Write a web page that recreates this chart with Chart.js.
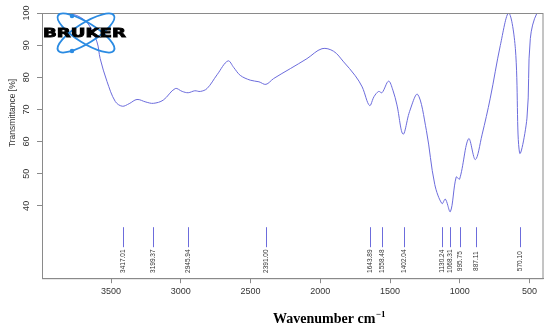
<!DOCTYPE html>
<html>
<head>
<meta charset="utf-8">
<script src="https://cdn.jsdelivr.net/npm/chart.js@4"></script>
<style>
    html, body { margin: 0; padding: 0; background: #ffffff; }
    #wrap { width: 550px; height: 329px; }
</style>
</head>
<body>
<div id="wrap"><canvas id="irChart" width="550" height="329"></canvas></div>
<script>
// FT-IR spectrum (wavenumber / transmittance)
const wavenumbers = [4000, 3850, 3745, 3664, 3601, 3578, 3529, 3470, 3420, 3370, 3314, 3250, 3197, 3126,
    3040, 2990, 2947, 2900, 2860, 2812, 2740, 2662, 2620, 2574, 2502, 2440, 2390, 2335,
    2215, 2096, 1988, 1905, 1833, 1750, 1700, 1647, 1615, 1582, 1558, 1511, 1480, 1451,
    1407, 1360, 1303, 1240, 1180, 1128, 1104, 1068, 1026, 1002, 937, 889, 841, 782,
    710, 650, 602, 572, 519, 495, 447, 400];
const transmittance = [100, 100, 99.2, 96.6, 91.0, 85.8, 78.7, 72.5, 71.0, 71.8, 73.1, 72.3, 71.9, 72.9,
    76.5, 75.6, 75.2, 75.8, 75.6, 76.5, 80.8, 85.1, 83.0, 80.6, 79.1, 78.6, 77.8, 79.6,
    82.7, 85.8, 88.9, 88.1, 84.8, 80.5, 77.0, 71.2, 74.0, 75.6, 75.2, 78.8, 76.0, 71.4,
    62.3, 69.4, 74.7, 63.5, 46.7, 40.7, 42.1, 38.2, 49.0, 48.3, 60.9, 54.4, 62.1, 73.5,
    89.9, 100, 88.9, 56.5, 67.3, 92.0, 100, 100];

const peakLabels = ['3417.01', '3199.37', '2945.94', '2391.00', '1643.89', '1558.48', '1402.04',
    '1130.24', '1068.31', '995.75', '887.11', '570.10'];

const xTickValues = [3500, 3000, 2500, 2000, 1500, 1000, 500];
const yTickValues = [40, 50, 60, 70, 80, 90, 100];

const lineColor = '#6c6cdc';
const frameColor = '#8a8a8a';

const spectrum = wavenumbers.map((w, i) => ({ x: w, y: transmittance[i] }));

const decorations = {
    id: 'decorations',
    afterDraw(chart) {
        const { ctx, chartArea, scales } = chart;
        const x = scales.x;
        const y = scales.y;
        ctx.save();

        // frame top / right
        ctx.strokeStyle = frameColor;
        ctx.lineWidth = 1;
        ctx.strokeRect(chartArea.left + 0.5, chartArea.top + 0.5,
            chartArea.right - chartArea.left - 0.5, chartArea.bottom - chartArea.top);

        // y tick labels, rotated
        ctx.fillStyle = '#333333';
        ctx.font = '9px "Liberation Sans", Arial, sans-serif';
        ctx.textAlign = 'center';
        ctx.textBaseline = 'middle';
        yTickValues.forEach(v => {
            ctx.save();
            ctx.translate(27, y.getPixelForValue(v));
            ctx.rotate(-Math.PI / 2);
            ctx.fillText(String(v), 0, 0);
            ctx.restore();
        });

        // y title
        ctx.save();
        ctx.font = '8.5px "Liberation Sans", Arial, sans-serif';
        ctx.translate(13, 113);
        ctx.rotate(-Math.PI / 2);
        ctx.fillText('Transmittance [%]', 0, 0);
        ctx.restore();

        // peak markers
        peakLabels.forEach(label => {
            const px = Math.round(x.getPixelForValue(parseFloat(label))) + 0.5;
            ctx.strokeStyle = lineColor;
            ctx.beginPath();
            ctx.moveTo(px, chartArea.bottom - 51);
            ctx.lineTo(px, chartArea.bottom - 31);
            ctx.stroke();
            ctx.save();
            ctx.fillStyle = '#333333';
            ctx.font = '6.5px "Liberation Sans", Arial, sans-serif';
            ctx.translate(px - 0.5, chartArea.bottom - 17);
            ctx.rotate(-Math.PI / 2);
            ctx.fillText(label, 0, 0);
            ctx.restore();
        });

        // x title
        ctx.fillStyle = '#000000';
        ctx.textAlign = 'left';
        ctx.textBaseline = 'alphabetic';
        ctx.font = 'bold 14px "Liberation Serif", "Times New Roman", serif';
        const main = 'Wavenumber cm';
        const w1 = ctx.measureText(main).width;
        ctx.font = 'bold 9px "Liberation Serif", "Times New Roman", serif';
        const w2 = ctx.measureText('\u22121').width;
        const tx = 329 - (w1 + w2) / 2;
        ctx.font = 'bold 14px "Liberation Serif", "Times New Roman", serif';
        ctx.fillText(main, tx, 323);
        ctx.font = 'bold 9px "Liberation Serif", "Times New Roman", serif';
        ctx.fillText('\u22121', tx + w1 + 0.5, 317);

        drawLogo(ctx);
        ctx.restore();
    }
};

function drawLogo(ctx) {
    ctx.save();
    ctx.strokeStyle = '#2b8be2';
    ctx.fillStyle = '#2b8be2';
    ctx.lineWidth = 1.8;
    [0.56, -0.56].forEach(rot => {
        ctx.beginPath();
        ctx.ellipse(86, 33, 33, 10, rot, 0, Math.PI * 2);
        ctx.stroke();
    });
    ctx.beginPath();
    ctx.arc(72, 16, 2.3, 0, Math.PI * 2);
    ctx.arc(72, 51, 2.3, 0, Math.PI * 2);
    ctx.fill();

    ctx.fillStyle = '#000000';
    ctx.font = 'bold 12.5px "DejaVu Sans", sans-serif';
    ctx.textBaseline = 'middle';
    ctx.textAlign = 'left';
    const tw = ctx.measureText('BRUKER').width;
    ctx.translate(43, 34);
    ctx.scale(83 / tw, 1);
    ctx.lineWidth = 0.8;
    ctx.strokeStyle = '#000000';
    ctx.strokeText('BRUKER', 0, 0);
    ctx.fillText('BRUKER', 0, 0);
    ctx.restore();
}

new Chart(document.getElementById('irChart'), {
    type: 'line',
    data: {
        datasets: [{
            data: spectrum,
            borderColor: lineColor,
            borderWidth: 1,
            pointRadius: 0,
            fill: false,
            tension: 0.35
        }]
    },
    options: {
        responsive: false,
        animation: false,
        layout: { padding: { left: 37, right: 7, top: 13, bottom: 29 } },
        plugins: {
            legend: { display: false },
            tooltip: { enabled: false }
        },
        scales: {
            x: {
                type: 'linear',
                reverse: true,
                min: 404,
                max: 3995,
                afterBuildTicks: scale => { scale.ticks = xTickValues.map(v => ({ value: v })); },
                grid: { drawOnChartArea: false, tickLength: 5, color: frameColor },
                border: { color: frameColor },
                ticks: {
                    color: '#333333',
                    padding: 3,
                    maxRotation: 0,
                    callback: v => String(v),
                    font: { family: '"Liberation Sans", Arial, sans-serif', size: 9 }
                }
            },
            y: {
                min: 17.5,
                max: 100,
                afterBuildTicks: scale => { scale.ticks = yTickValues.map(v => ({ value: v })); },
                grid: { drawOnChartArea: false, tickLength: 5, color: frameColor },
                border: { color: frameColor },
                ticks: { display: false }
            }
        }
    },
    plugins: [decorations]
});
</script>
</body>
</html>
